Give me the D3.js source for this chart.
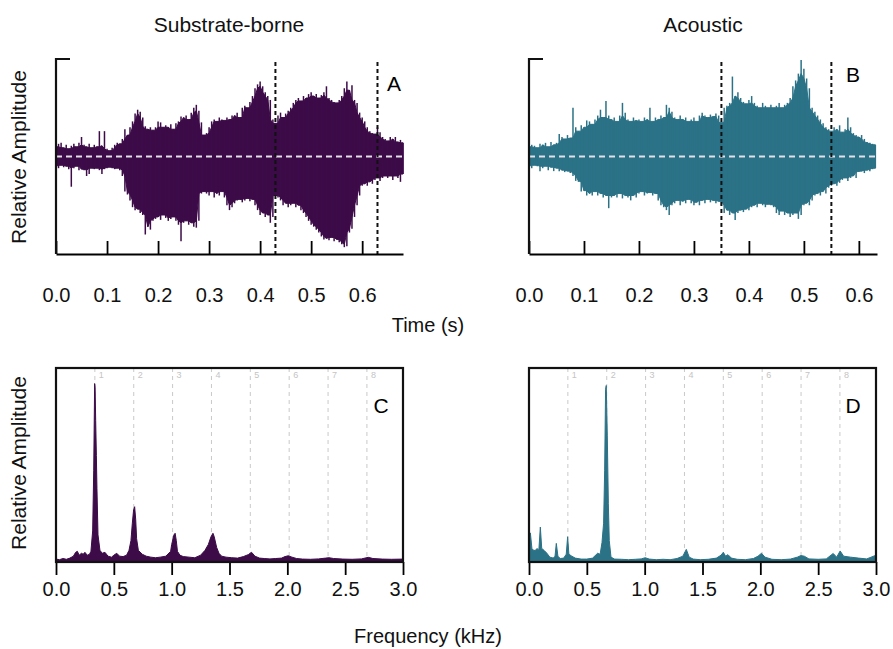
<!DOCTYPE html>
<html>
<head>
<meta charset="utf-8">
<script src="https://cdn.jsdelivr.net/npm/d3@7"></script>
<style>
  body { margin: 0; background: #fff; }
  svg { font-family: "Liberation Sans", Arial, sans-serif; }
</style>
</head>
<body>
<svg id="chart" width="893" height="649"></svg>
<script>
// ---- data ----
// waveform envelopes, one value every 0.005 s (relative amplitude, -1..1)
const waveStep = 0.005;
const aTop = [
  0.10,0.13,0.14,0.09,0.12,0.08,0.11,0.13,0.10,0.14,
  0.20,0.12,0.10,0.13,0.09,0.12,0.10,0.26,0.11,0.26,
  0.08,0.06,0.09,0.12,0.14,0.13,0.18,0.28,0.22,0.30,
  0.36,0.44,0.48,0.46,0.40,0.31,0.28,0.30,0.27,0.30,
  0.36,0.35,0.30,0.32,0.30,0.33,0.28,0.34,0.36,0.41,
  0.40,0.42,0.38,0.45,0.50,0.53,0.47,0.35,0.22,0.24,
  0.30,0.36,0.38,0.36,0.40,0.38,0.37,0.40,0.38,0.42,
  0.42,0.45,0.40,0.50,0.52,0.50,0.56,0.62,0.70,0.74,
  0.77,0.72,0.66,0.62,0.58,0.38,0.34,0.42,0.45,0.40,
  0.44,0.47,0.50,0.55,0.58,0.60,0.57,0.62,0.60,0.64,
  0.66,0.62,0.64,0.60,0.63,0.66,0.72,0.60,0.58,0.56,
  0.55,0.58,0.62,0.70,0.77,0.68,0.73,0.58,0.55,0.45,
  0.40,0.36,0.30,0.26,0.24,0.23,0.30,0.25,0.20,0.18,
  0.16,0.20,0.18,0.20,0.15,0.17,0.14
];
const aBot = [
  -0.10,-0.12,-0.09,-0.11,-0.10,-0.13,-0.31,-0.12,-0.10,-0.14,
  -0.13,-0.14,-0.20,-0.18,-0.12,-0.13,-0.12,-0.14,-0.18,-0.13,
  -0.12,-0.11,-0.12,-0.13,-0.12,-0.14,-0.20,-0.36,-0.39,-0.45,
  -0.52,-0.55,-0.54,-0.58,-0.60,-0.80,-0.72,-0.75,-0.66,-0.64,
  -0.62,-0.65,-0.60,-0.63,-0.66,-0.64,-0.62,-0.66,-0.70,-0.87,
  -0.68,-0.66,-0.70,-0.68,-0.72,-0.73,-0.66,-0.38,-0.36,-0.38,
  -0.40,-0.36,-0.42,-0.38,-0.40,-0.36,-0.42,-0.50,-0.55,-0.52,
  -0.48,-0.45,-0.44,-0.47,-0.45,-0.43,-0.46,-0.44,-0.50,-0.55,
  -0.60,-0.58,-0.62,-0.60,-0.68,-0.62,-0.40,-0.42,-0.45,-0.50,
  -0.48,-0.52,-0.50,-0.48,-0.52,-0.50,-0.55,-0.58,-0.62,-0.66,
  -0.70,-0.72,-0.75,-0.78,-0.82,-0.85,-0.84,-0.86,-0.83,-0.87,
  -0.85,-0.88,-0.90,-0.93,-0.92,-0.78,-0.74,-0.62,-0.50,-0.40,
  -0.30,-0.28,-0.30,-0.26,-0.28,-0.24,-0.22,-0.25,-0.22,-0.20,
  -0.22,-0.20,-0.24,-0.20,-0.22,-0.26,-0.18
];
const bTop = [
  0.10,0.12,0.11,0.09,0.13,0.12,0.14,0.10,0.15,0.12,
  0.14,0.23,0.20,0.18,0.22,0.19,0.50,0.30,0.26,0.32,
  0.30,0.37,0.36,0.33,0.38,0.42,0.48,0.40,0.57,0.42,
  0.38,0.40,0.36,0.42,0.55,0.45,0.38,0.36,0.40,0.37,
  0.38,0.36,0.40,0.38,0.50,0.36,0.40,0.38,0.42,0.40,
  0.53,0.50,0.46,0.40,0.38,0.42,0.38,0.40,0.36,0.38,
  0.40,0.36,0.42,0.45,0.42,0.40,0.43,0.41,0.44,0.42,
  0.35,0.50,0.52,0.55,0.82,0.62,0.66,0.60,0.56,0.54,
  0.58,0.62,0.55,0.52,0.50,0.55,0.52,0.50,0.53,0.50,
  0.52,0.55,0.50,0.53,0.55,0.60,0.72,0.78,0.85,0.99,
  0.90,0.80,0.70,0.50,0.46,0.42,0.38,0.34,0.30,0.28,
  0.26,0.30,0.28,0.32,0.25,0.28,0.40,0.30,0.24,0.22,
  0.20,0.22,0.18,0.15,0.14,0.13,0.12
];
const bBot = [
  -0.10,-0.12,-0.09,-0.10,-0.15,-0.12,-0.10,-0.14,-0.11,-0.15,
  -0.12,-0.15,-0.14,-0.16,-0.15,-0.17,-0.20,-0.25,-0.26,-0.36,
  -0.35,-0.40,-0.38,-0.40,-0.36,-0.40,-0.38,-0.42,-0.40,-0.53,
  -0.42,-0.40,-0.42,-0.38,-0.43,-0.40,-0.42,-0.45,-0.40,-0.42,
  -0.38,-0.36,-0.40,-0.38,-0.37,-0.40,-0.38,-0.45,-0.50,-0.52,
  -0.55,-0.60,-0.50,-0.48,-0.45,-0.50,-0.46,-0.48,-0.44,-0.48,
  -0.50,-0.47,-0.50,-0.45,-0.48,-0.44,-0.47,-0.45,-0.48,-0.46,
  -0.50,-0.58,-0.55,-0.60,-0.58,-0.65,-0.58,-0.55,-0.57,-0.54,
  -0.55,-0.52,-0.50,-0.52,-0.48,-0.50,-0.52,-0.49,-0.50,-0.52,
  -0.58,-0.60,-0.56,-0.60,-0.58,-0.62,-0.60,-0.58,-0.64,-0.60,
  -0.50,-0.48,-0.50,-0.45,-0.40,-0.38,-0.40,-0.36,-0.38,-0.32,
  -0.30,-0.28,-0.30,-0.27,-0.24,-0.22,-0.25,-0.22,-0.20,-0.22,
  -0.16,-0.15,-0.17,-0.14,-0.15,-0.13,-0.12
];
// analysis windows (s)
const windowA = [0.43, 0.63];
const windowB = [0.35, 0.55];

// spectra (kHz, relative amplitude)
const freqC = [0,0.03,0.06,0.09,0.12,0.15,0.17,0.185,0.2,0.22,0.235,0.25,0.27,0.29,0.302,0.317,0.326,0.334,0.338,0.343,0.349,0.354,0.363,0.38,0.4,0.423,0.45,0.48,0.5,0.525,0.55,0.58,0.61,0.631,0.648,0.66,0.671,0.68,0.689,0.697,0.712,0.746,0.78,0.82,0.86,0.9,0.95,0.991,1.0,1.02,1.03,1.04,1.05,1.072,1.1,1.15,1.2,1.25,1.288,1.317,1.34,1.357,1.368,1.389,1.409,1.432,1.47,1.52,1.57,1.62,1.662,1.691,1.72,1.76,1.8,1.85,1.9,1.95,1.98,2.008,2.04,2.08,2.13,2.2,2.27,2.33,2.36,2.4,2.48,2.56,2.64,2.7,2.74,2.82,2.9,3.0];
const ampC  = [0.015,0.012,0.018,0.014,0.02,0.03,0.05,0.055,0.035,0.045,0.04,0.05,0.035,0.04,0.055,0.16,0.47,0.92,0.9,0.73,0.55,0.38,0.14,0.06,0.045,0.05,0.03,0.025,0.035,0.045,0.03,0.028,0.035,0.06,0.11,0.2,0.27,0.285,0.22,0.12,0.06,0.04,0.03,0.025,0.022,0.025,0.03,0.055,0.09,0.14,0.148,0.11,0.055,0.035,0.028,0.025,0.022,0.035,0.06,0.09,0.13,0.148,0.13,0.075,0.045,0.03,0.025,0.022,0.02,0.028,0.038,0.05,0.03,0.02,0.018,0.016,0.018,0.02,0.028,0.032,0.025,0.018,0.015,0.014,0.016,0.02,0.022,0.018,0.015,0.014,0.016,0.024,0.018,0.015,0.014,0.015];
const freqD = [0,0.012,0.025,0.04,0.055,0.07,0.085,0.098,0.11,0.13,0.155,0.18,0.21,0.225,0.236,0.25,0.27,0.3,0.322,0.334,0.345,0.37,0.4,0.45,0.5,0.55,0.593,0.615,0.631,0.645,0.654,0.662,0.668,0.677,0.686,0.694,0.709,0.74,0.8,0.86,0.92,0.97,1.005,1.04,1.1,1.16,1.22,1.28,1.33,1.36,1.385,1.42,1.48,1.55,1.62,1.66,1.68,1.7,1.72,1.75,1.8,1.87,1.94,1.98,2.01,2.04,2.1,2.18,2.26,2.32,2.35,2.38,2.42,2.5,2.57,2.63,2.66,2.69,2.72,2.78,2.85,2.92,3.0];
const ampD  = [0.04,0.15,0.07,0.06,0.06,0.07,0.06,0.18,0.07,0.06,0.045,0.025,0.02,0.03,0.096,0.03,0.018,0.02,0.04,0.13,0.04,0.03,0.02,0.015,0.015,0.02,0.045,0.04,0.1,0.2,0.47,0.89,0.91,0.65,0.3,0.11,0.025,0.015,0.014,0.012,0.014,0.016,0.022,0.015,0.012,0.014,0.012,0.018,0.03,0.065,0.025,0.015,0.012,0.014,0.02,0.035,0.05,0.03,0.038,0.02,0.014,0.012,0.018,0.03,0.045,0.025,0.014,0.012,0.015,0.025,0.033,0.03,0.016,0.014,0.016,0.044,0.025,0.057,0.03,0.025,0.02,0.016,0.035];

const f0 = 0.336;                      // fundamental, kHz
const harmonics = [1, 2, 3, 4, 5, 6, 7, 8];
const timeTicks = [0, 0.1, 0.2, 0.3, 0.4, 0.5, 0.6];
const freqTicks = [0, 0.5, 1.0, 1.5, 2.0, 2.5, 3.0];

const purple = '#3c0b48';
const teal = '#2b7287';

const svg = d3.select('#chart');

function drawWave(cfg) {
  const x = d3.scaleLinear().domain([0, cfg.tMax]).range([cfg.left, cfg.right]);
  const y = d3.scaleLinear().domain([-1, 1]).range([cfg.bottom, cfg.top]);
  const g = svg.append('g');

  const n = cfg.upper.length;
  const pts = cfg.upper.map((u, i) => {
    const lo = Math.max(0, i - 1), hi = Math.min(n - 1, i + 1);
    return {
      t: i * waveStep, u: u, l: cfg.lower[i],
      // solid core: the smallest neighbouring excursion
      cu: d3.min(cfg.upper.slice(lo, hi + 1)),
      cl: d3.max(cfg.lower.slice(lo, hi + 1))
    };
  });

  const core = d3.area()
      .x(d => x(d.t))
      .y0(d => y(d.cl))
      .y1(d => y(d.cu));
  g.append('path')
      .datum(pts)
      .attr('d', core)
      .attr('fill', cfg.color)
      .attr('stroke', cfg.color)
      .attr('stroke-width', 1);

  // individual excursions as thin spikes
  g.selectAll('.spike')
    .data(pts)
    .join('line')
      .attr('x1', d => x(d.t)).attr('x2', d => x(d.t))
      .attr('y1', d => y(d.l)).attr('y2', d => y(d.u))
      .attr('stroke', cfg.color)
      .attr('stroke-width', 1.5);

  // zero line
  g.append('line')
      .attr('x1', x(0)).attr('x2', x(cfg.tMax))
      .attr('y1', y(0)).attr('y2', y(0))
      .attr('stroke', '#e4e0e8')
      .attr('stroke-width', 2)
      .attr('stroke-dasharray', '6,4');

  // analysis window
  g.selectAll('.win')
    .data(cfg.window)
    .join('line')
      .attr('x1', d => x(d)).attr('x2', d => x(d))
      .attr('y1', cfg.top + 3).attr('y2', cfg.bottom)
      .attr('stroke', '#111')
      .attr('stroke-width', 2)
      .attr('stroke-dasharray', '4,3');

  // axes
  const xAxis = d3.axisBottom(x).tickValues(timeTicks)
      .tickFormat(d3.format('.1f')).tickSize(-13).tickSizeOuter(0).tickPadding(34);
  const xg = g.append('g')
      .attr('transform', `translate(0,${cfg.bottom})`)
      .call(xAxis);
  xg.select('.domain').attr('stroke-width', 2.2);
  xg.selectAll('.tick line').attr('stroke-width', 1.8);
  xg.selectAll('text').attr('font-size', 20).attr('fill', '#111');

  g.append('path')
      .attr('d', `M${cfg.left + 14},${cfg.top}H${cfg.left}V${cfg.bottom}`)
      .attr('fill', 'none')
      .attr('stroke', '#111')
      .attr('stroke-width', 2.2);

  g.append('text')
      .attr('x', cfg.labelX).attr('y', cfg.labelY)
      .attr('font-size', 21)
      .attr('text-anchor', 'middle')
      .attr('dominant-baseline', 'middle')
      .text(cfg.label);
}

function drawSpectrum(cfg) {
  const x = d3.scaleLinear().domain([0, 3]).range([cfg.left, cfg.right]);
  const y = d3.scaleLinear().domain([0, 1]).range([cfg.bottom, cfg.top]);
  const g = svg.append('g');

  // harmonic guides
  g.selectAll('.harm')
    .data(harmonics)
    .join('line')
      .attr('x1', d => x(d * f0)).attr('x2', d => x(d * f0))
      .attr('y1', cfg.top).attr('y2', cfg.bottom)
      .attr('stroke', '#c9c9c9')
      .attr('stroke-width', 1)
      .attr('stroke-dasharray', '4,4');
  g.selectAll('.harmLabel')
    .data(harmonics)
    .join('text')
      .attr('x', d => x(d * f0) + 4)
      .attr('y', cfg.top + 10)
      .attr('font-size', 9)
      .attr('fill', '#c4c4c4')
      .text(d => d);

  const pts = cfg.freq.map((f, i) => ({f: f, a: cfg.amp[i]}));
  const area = d3.area()
      .x(d => x(d.f))
      .y0(y(0))
      .y1(d => y(d.a));
  g.append('path')
      .datum(pts)
      .attr('d', area)
      .attr('fill', cfg.color)
      .attr('stroke', cfg.color)
      .attr('stroke-width', 1);

  const xAxis = d3.axisBottom(x).tickValues(freqTicks)
      .tickFormat(d3.format('.1f')).tickSize(13).tickSizeOuter(0).tickPadding(7);
  const xg = g.append('g')
      .attr('transform', `translate(0,${cfg.bottom})`)
      .call(xAxis);
  xg.select('.domain').remove();
  xg.selectAll('.tick line').attr('stroke-width', 1.8);
  xg.selectAll('text').attr('font-size', 20).attr('fill', '#111');

  g.append('rect')
      .attr('x', cfg.left).attr('y', cfg.top)
      .attr('width', cfg.right - cfg.left)
      .attr('height', cfg.bottom - cfg.top)
      .attr('fill', 'none')
      .attr('stroke', '#111')
      .attr('stroke-width', 2.2);

  g.append('text')
      .attr('x', cfg.labelX).attr('y', cfg.labelY)
      .attr('font-size', 21)
      .attr('text-anchor', 'middle')
      .attr('dominant-baseline', 'middle')
      .text(cfg.label);
}

drawWave({left: 56, right: 403, top: 59, bottom: 254, tMax: 0.68,
  upper: aTop, lower: aBot, window: windowA, color: purple,
  label: 'A', labelX: 394, labelY: 85});
drawWave({left: 529, right: 877, top: 59, bottom: 254, tMax: 0.633,
  upper: bTop, lower: bBot, window: windowB, color: teal,
  label: 'B', labelX: 853, labelY: 76});
drawSpectrum({left: 56, right: 403, top: 368, bottom: 562,
  freq: freqC, amp: ampC, color: purple, label: 'C', labelX: 381, labelY: 407});
drawSpectrum({left: 529, right: 876, top: 368, bottom: 562,
  freq: freqD, amp: ampD, color: teal, label: 'D', labelX: 853, labelY: 407});

// titles and axis labels
const textStyle = sel => sel.attr('text-anchor', 'middle').attr('fill', '#111');
svg.append('text').attr('x', 229).attr('y', 32).attr('font-size', 21).call(textStyle).text('Substrate-borne');
svg.append('text').attr('x', 703).attr('y', 32).attr('font-size', 21).call(textStyle).text('Acoustic');
svg.append('text').attr('x', 428).attr('y', 332).attr('font-size', 20).call(textStyle).text('Time (s)');
svg.append('text').attr('x', 428).attr('y', 643).attr('font-size', 20).call(textStyle).text('Frequency (kHz)');
svg.append('text').attr('transform', 'translate(26,157) rotate(-90)').attr('font-size', 21).call(textStyle).text('Relative Amplitude');
svg.append('text').attr('transform', 'translate(26,463) rotate(-90)').attr('font-size', 21).call(textStyle).text('Relative Amplitude');
</script>
</body>
</html>
